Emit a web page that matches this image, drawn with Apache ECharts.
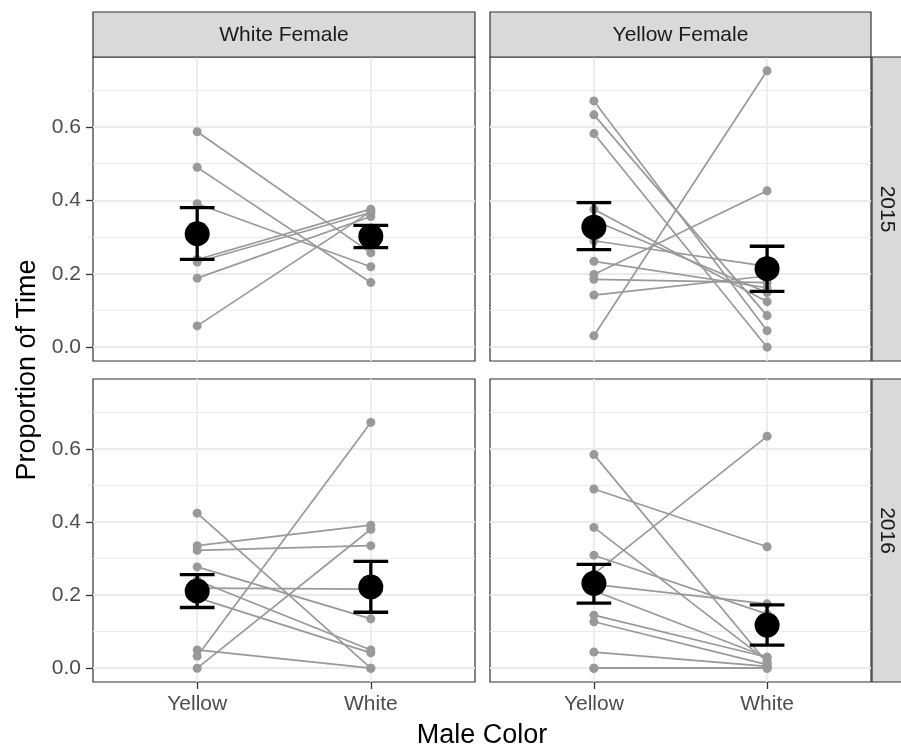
<!DOCTYPE html>
<html>
<head>
<meta charset="utf-8">
<script src="https://cdn.jsdelivr.net/npm/echarts@6/dist/echarts.min.js"></script>
<style>
  html, body { margin: 0; padding: 0; background: #fff; }
  #chart { width: 901px; height: 750px; }
</style>
</head>
<body>
<div id="chart"></div>
<script>
// ---- Data ----
const categories = ['Yellow', 'White'];          // male colour (x axis)
const femaleColors = ['White Female', 'Yellow Female'];  // column facets
const years = ['2015', '2016'];                  // row facets
const yTicks = [0, 0.2, 0.4, 0.6];
const yMinorTicks = [0.1, 0.3, 0.5, 0.7];

// Individual pairs: value with Yellow male, value with White male
const wf2015Yellow = [0.587, 0.490, 0.391, 0.239, 0.232, 0.188, 0.058];
const wf2015White  = [0.257, 0.176, 0.219, 0.376, 0.367, 0.356, 0.370];

const yf2015Yellow = [0.671, 0.633, 0.582, 0.031, 0.198, 0.376, 0.345, 0.290, 0.234, 0.185, 0.142];
const yf2015White  = [0.045, 0.086, 0.000, 0.753, 0.426, 0.124, 0.149, 0.220, 0.162, 0.176, 0.194];

const wf2016Yellow = [0.424, 0.335, 0.322, 0.277, 0.240, 0.219, 0.193, 0.050, 0.033, 0.000];
const wf2016White  = [0.000, 0.391, 0.335, 0.135, 0.050, 0.216, 0.042, 0.000, 0.672, 0.380];

const yf2016Yellow = [0.584, 0.490, 0.385, 0.309, 0.258, 0.229, 0.212, 0.145, 0.127, 0.044, 0.000, 0.000];
const yf2016White  = [0.015, 0.332, 0.020, 0.148, 0.634, 0.176, 0.030, 0.030, 0.010, 0.005, 0.000, 0.000];

// Means and error-bar limits [Yellow, White]
const wf2015Mean = [0.309, 0.302], wf2015Lower = [0.239, 0.271], wf2015Upper = [0.380, 0.332];
const yf2015Mean = [0.327, 0.214], yf2015Lower = [0.266, 0.152], yf2015Upper = [0.394, 0.275];
const wf2016Mean = [0.211, 0.222], wf2016Lower = [0.166, 0.153], wf2016Upper = [0.256, 0.292];
const yf2016Mean = [0.232, 0.118], yf2016Lower = [0.178, 0.063], yf2016Upper = [0.284, 0.173];

// ---- Build chart ----
const panels = [
  { yel: wf2015Yellow, wht: wf2015White, mean: wf2015Mean, lo: wf2015Lower, hi: wf2015Upper, col: 0, row: 0 },
  { yel: yf2015Yellow, wht: yf2015White, mean: yf2015Mean, lo: yf2015Lower, hi: yf2015Upper, col: 1, row: 0 },
  { yel: wf2016Yellow, wht: wf2016White, mean: wf2016Mean, lo: wf2016Lower, hi: wf2016Upper, col: 0, row: 1 },
  { yel: yf2016Yellow, wht: yf2016White, mean: yf2016Mean, lo: yf2016Lower, hi: yf2016Upper, col: 1, row: 1 }
];

const FONT = 'Liberation Sans, Arial, Helvetica, sans-serif';
const colLeft = [93, 490], colWidth = [382, 381];
const rowTop = [57, 379], rowHeight = [304, 303];
const Y_MIN = -0.0377, Y_MAX = 0.7907;

const grids = [], xAxes = [], yAxes = [], series = [];

panels.forEach((p, i) => {
  const leftCol = p.col === 0, bottomRow = p.row === 1;
  grids.push({
    left: colLeft[p.col], top: rowTop[p.row], width: colWidth[p.col], height: rowHeight[p.row],
    show: true, borderColor: '#333333', borderWidth: 1.2, backgroundColor: '#ffffff', containLabel: false
  });
  xAxes.push({
    type: 'value', gridIndex: i, min: -0.6, max: 1.6, position: 'bottom',
    axisLine: { show: false, onZero: false },
    axisTick: { show: bottomRow, length: 7, lineStyle: { color: '#333333', width: 1.3 }, customValues: [0, 1] },
    axisLabel: {
      show: bottomRow, customValues: [0, 1], margin: 12,
      formatter: v => categories[Math.round(v)], color: '#4D4D4D', fontSize: 21, fontFamily: FONT
    },
    splitLine: { show: true, lineStyle: { color: '#EBEBEB', width: 1.8 } }
  });
  yAxes.push({
    type: 'value', gridIndex: i, min: Y_MIN, max: Y_MAX, position: 'left',
    axisLine: { show: false, onZero: false },
    axisTick: { show: leftCol, length: 7, lineStyle: { color: '#333333', width: 1.3 }, customValues: yTicks },
    axisLabel: {
      show: leftCol, customValues: yTicks, margin: 12,
      formatter: v => v.toFixed(1), color: '#4D4D4D', fontSize: 21, fontFamily: FONT
    },
    splitLine: { show: true, lineStyle: { color: '#EBEBEB', width: 1.8 } }
  });
  yAxes.push({
    type: 'value', gridIndex: i, min: Y_MIN, max: Y_MAX, position: 'left',
    axisLine: { show: false, onZero: false },
    axisTick: { show: false, customValues: yMinorTicks },
    axisLabel: { show: false, customValues: yMinorTicks },
    splitLine: { show: true, lineStyle: { color: '#EBEBEB', width: 1.0 } }
  });
  const yIdx = i * 2;
  p.yel.forEach((v, k) => {
    series.push({
      type: 'line', xAxisIndex: i, yAxisIndex: yIdx, silent: true, animation: false, z: 2,
      data: [[0, v], [1, p.wht[k]]],
      symbol: 'circle', symbolSize: 9, showSymbol: true,
      itemStyle: { color: '#999999' },
      lineStyle: { color: '#999999', width: 1.7 }
    });
  });
  series.push({
    type: 'custom', xAxisIndex: i, yAxisIndex: yIdx, silent: true, animation: false, z: 3,
    data: [[0, p.lo[0], p.hi[0]], [1, p.lo[1], p.hi[1]]],
    renderItem: (params, api) => {
      const x = api.value(0), lo = api.value(1), hi = api.value(2);
      const a = api.coord([x, hi]), b = api.coord([x, lo]);
      const tl = api.coord([x - 0.1, hi]), tr = api.coord([x + 0.1, hi]);
      const bl = api.coord([x - 0.1, lo]), br = api.coord([x + 0.1, lo]);
      const st = { stroke: '#000000', lineWidth: 3.3 };
      return {
        type: 'group',
        children: [
          { type: 'line', shape: { x1: a[0], y1: a[1], x2: b[0], y2: b[1] }, style: st },
          { type: 'line', shape: { x1: tl[0], y1: tl[1], x2: tr[0], y2: tr[1] }, style: st },
          { type: 'line', shape: { x1: bl[0], y1: bl[1], x2: br[0], y2: br[1] }, style: st }
        ]
      };
    }
  });
  series.push({
    type: 'scatter', xAxisIndex: i, yAxisIndex: yIdx, silent: true, animation: false, z: 4,
    data: [[0, p.mean[0]], [1, p.mean[1]]],
    symbol: 'circle', symbolSize: 25, itemStyle: { color: '#000000', opacity: 1 }
  });
});

// Facet strips and axis titles
const graphics = [];
femaleColors.forEach((name, c) => {
  graphics.push({
    type: 'rect', silent: true, z: 10,
    shape: { x: colLeft[c], y: 12, width: colWidth[c], height: 45 },
    style: { fill: '#D9D9D9', stroke: '#333333', lineWidth: 1.2 }
  });
  graphics.push({
    type: 'text', silent: true, z: 11, x: colLeft[c] + colWidth[c] / 2, y: 35,
    style: { text: name, fill: '#1A1A1A', font: '21px ' + FONT, textAlign: 'center', textVerticalAlign: 'middle' }
  });
});
years.forEach((yr, r) => {
  graphics.push({
    type: 'rect', silent: true, z: 10,
    shape: { x: 872, y: rowTop[r], width: 45, height: rowHeight[r] },
    style: { fill: '#D9D9D9', stroke: '#333333', lineWidth: 1.2 }
  });
  graphics.push({
    type: 'text', silent: true, z: 11, x: 887, y: rowTop[r] + rowHeight[r] / 2,
    rotation: -Math.PI / 2,
    style: { text: yr, fill: '#1A1A1A', font: '21px ' + FONT, textAlign: 'center', textVerticalAlign: 'middle' }
  });
});
graphics.push({
  type: 'text', silent: true, x: 28, y: 370, rotation: Math.PI / 2,
  style: { text: 'Proportion of Time', fill: '#000000', font: '27px ' + FONT, textAlign: 'center', textVerticalAlign: 'middle' }
});
graphics.push({
  type: 'text', silent: true, x: 482, y: 736,
  style: { text: 'Male Color', fill: '#000000', font: '27px ' + FONT, textAlign: 'center', textVerticalAlign: 'middle' }
});

const chart = echarts.init(document.getElementById('chart'), null, { renderer: 'canvas' });
chart.setOption({
  animation: false,
  backgroundColor: '#ffffff',
  grid: grids,
  xAxis: xAxes,
  yAxis: yAxes,
  series: series,
  graphic: { elements: graphics }
});
</script>
</body>
</html>
